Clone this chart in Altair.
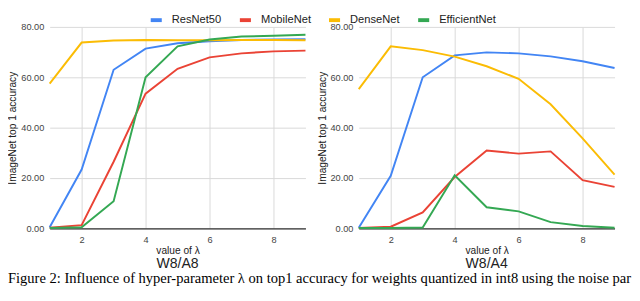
import altair as alt
import pandas as pd

lambdas = [1, 2, 3, 4, 5, 6, 7, 8, 9]
models = ["ResNet50", "MobileNet", "DenseNet", "EfficientNet"]
colors = ["#4285F4", "#EA4335", "#FBBC04", "#34A853"]

a8_resnet50 = [0.5, 23.4, 63.0, 71.4, 73.5, 74.3, 74.8, 75.0, 75.1]
a8_mobilenet = [0.3, 1.3, 26.5, 53.5, 63.4, 67.9, 69.5, 70.3, 70.6]
a8_densenet = [57.5, 73.8, 74.6, 74.8, 74.7, 74.7, 74.8, 74.8, 74.7]
a8_efficientnet = [0.2, 0.5, 10.8, 60.0, 72.3, 75.0, 76.2, 76.5, 76.9]

a4_resnet50 = [0.3, 20.9, 60.0, 68.7, 69.9, 69.5, 68.3, 66.4, 63.7]
a4_mobilenet = [0.2, 0.7, 6.4, 20.4, 30.9, 29.7, 30.6, 19.2, 16.5]
a4_densenet = [55.3, 72.3, 70.8, 68.2, 64.4, 59.4, 49.3, 35.8, 21.4]
a4_efficientnet = [0.2, 0.2, 0.4, 21.1, 8.4, 6.8, 2.5, 1.0, 0.3]

x_ticks = [2, 4, 6, 8]
y_ticks = [0, 20, 40, 60, 80]
# visible part of the figure caption (cut by the picture's edge in the reference)
caption = ("Figure 2: Influence of hyper-parameter \u03bb on top1 accuracy for weights "
           "quantized in int8 using the noise par")

FONT = "Liberation Sans"


def make_df(series):
    rows = []
    for m, vals in zip(models, series):
        for l, v in zip(lambdas, vals):
            rows.append({"model": m, "lambda": l, "acc": v, "ord": models.index(m)})
    return pd.DataFrame(rows)


df_a8 = make_df([a8_resnet50, a8_mobilenet, a8_densenet, a8_efficientnet])
df_a4 = make_df([a4_resnet50, a4_mobilenet, a4_densenet, a4_efficientnet])


def panel(df, title):
    return alt.Chart(df).mark_line(strokeWidth=2).encode(
        x=alt.X("lambda:Q",
                scale=alt.Scale(domain=[1, 9], nice=False, zero=False),
                axis=alt.Axis(values=x_ticks, title="value of \u03bb", grid=True,
                              domain=True, domainColor="#333333", domainWidth=1.2,
                              ticks=False, labelPadding=7, titlePadding=1)),
        y=alt.Y("acc:Q",
                scale=alt.Scale(domain=[0, 80], nice=False),
                axis=alt.Axis(values=y_ticks, format=".2f", title="ImageNet top 1 accuracy",
                              grid=True, domain=False, ticks=False, labelPadding=6,
                              titlePadding=3)),
        color=alt.Color("model:N", scale=alt.Scale(domain=models, range=colors),
                        legend=alt.Legend(title=None, orient="none", direction="horizontal",
                                          legendX=102, legendY=-15,
                                          symbolType="stroke", symbolStrokeWidth=4,
                                          symbolSize=130, labelFont=FONT, labelFontSize=11.5,
                                          labelColor="#222222", labelOffset=8,
                                          columnPadding=10)),
        order=alt.Order("ord:Q"),
    ).properties(
        width=264, height=208,
        title=alt.TitleParams(title, orient="bottom", font=FONT, fontSize=14.5,
                              fontWeight="normal", color="#222222", offset=2),
    )


caption_chart = alt.Chart(pd.DataFrame({"t": [caption]})).mark_text(
    align="left", baseline="alphabetic", font="Liberation Serif", fontSize=15,
    color="#000000",
).encode(
    text="t:N", x=alt.value(-43), y=alt.value(9.5)
).properties(width=560, height=6)

panels = alt.hconcat(
    panel(df_a8, "W8/A8"),
    panel(df_a4, "W8/A4"),
    spacing=8,
).resolve_scale(color="shared")

chart = alt.vconcat(panels, caption_chart, spacing=0).properties(
    padding={"left": 0, "top": 0, "right": 0, "bottom": 0},
).configure_view(stroke=None).configure_axis(
    labelFont=FONT, labelFontSize=9.5, labelColor="#444444",
    titleFont=FONT, titleFontSize=10.5, titleColor="#222222", titleFontWeight="normal",
    gridColor="#d9d9d9", gridWidth=1,
)

chart.save("out.html", embed_options={"renderer": "svg", "actions": False})
